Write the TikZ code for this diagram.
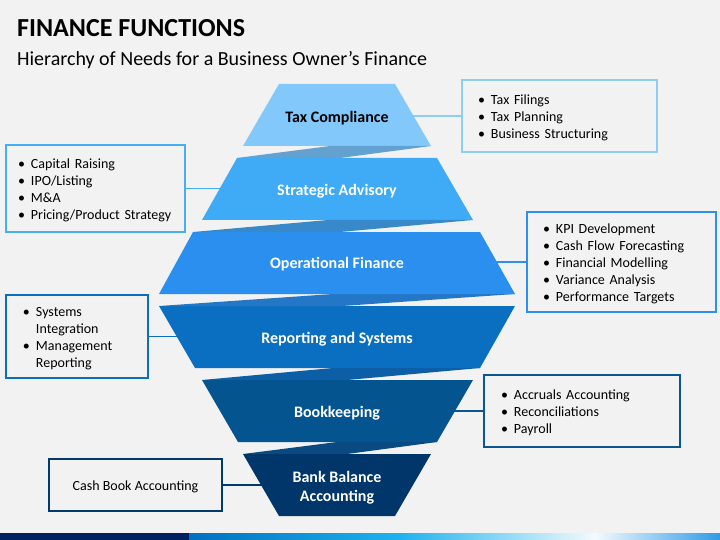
\documentclass[tikz,border=0pt]{standalone}
\usepackage{fontspec}
\setmainfont{Carlito}
\definecolor{bgc}{HTML}{F2F2F2}
\definecolor{tierA}{HTML}{82C8FA}
\definecolor{tierB}{HTML}{3FAAF5}
\definecolor{tierC}{HTML}{2A8FEE}
\definecolor{tierD}{HTML}{0A6FC1}
\definecolor{tierE}{HTML}{045490}
\definecolor{tierF}{HTML}{01366A}
\definecolor{bandA}{HTML}{63A1D1}
\definecolor{bandB}{HTML}{3889C9}
\definecolor{bandC}{HTML}{2377C6}
\definecolor{bandD}{HTML}{0C5EA6}
\definecolor{bandE}{HTML}{0A4A82}
\definecolor{boxA}{HTML}{8DCDF8}
\definecolor{boxB}{HTML}{45AEF5}
\definecolor{boxC}{HTML}{2F8FEE}
\definecolor{boxD}{HTML}{0B6FBF}
\definecolor{boxE}{HTML}{0A5592}
\definecolor{boxF}{HTML}{013A6C}
\definecolor{barnavy}{HTML}{002060}
\definecolor{barblue}{HTML}{0070C0}
\definecolor{barsky}{HTML}{1DB3EE}
\definecolor{barwhite}{HTML}{F4FAFD}
\definecolor{barend}{HTML}{2E9BE6}
\newcommand\itm{\makebox[13pt][l]{\textbullet}}
\newcommand\hangpad{\hspace*{13pt}}
\begin{document}
\begin{tikzpicture}[x=1pt,y=-1pt]
    \tikzset{
      tiertext/.style={font=\bfseries\fontsize{16}{19}\selectfont, text=white, align=center, yshift=-2.5pt},
      infobox/.style={draw, line width=1.5pt, fill=bgc, anchor=north west, outer sep=0pt,
        inner ysep=0pt, align=left, font=\fontsize{14}{16.8}\selectfont,
        execute at begin node={\rule{0pt}{13.5pt}}},
      link/.style={line width=1.5pt}
    }
    % background and bottom bar
    \fill[bgc] (0,0) rectangle (720,540);
    \fill[barnavy] (0,533) rectangle (189,540);
    \shade[left color=barblue, right color=barsky] (189,533) rectangle (400,540);
    \shade[left color=barsky, right color=barwhite] (400,533) rectangle (595,540);
    \shade[left color=barwhite, right color=barend] (595,533) rectangle (720,540);
    % titles
    \node[anchor=base west, inner sep=0pt, font=\bfseries\fontsize{26}{30}\selectfont] (title) at (17,37) {FINANCE FUNCTIONS};
    \node[anchor=base west, inner sep=0pt, font=\fontsize{20}{24}\selectfont] (subtitle) at (17,66) {Hierarchy of Needs for a Business Owner’s Finance};
    % tier centres
    \coordinate (tax) at (337,116);
    \coordinate (strat) at (337,189);
    \coordinate (oper) at (337,262);
    \coordinate (rep) at (337,337);
    \coordinate (book) at (337,411);
    \coordinate (bank) at (337,485);
    % side boxes
    \node[infobox, draw=boxA, text width=163pt, inner xsep=16pt, minimum height=72pt] (taxbox) at (462,80)
      {\itm Tax Filings\\ \itm Tax Planning\\ \itm Business Structuring};
    \node[infobox, draw=boxB, text width=155pt, inner xsep=12pt, minimum height=87pt] (stratbox) at (6,145)
      {\itm Capital Raising\\ \itm IPO/Listing\\ \itm M\&A\\ \itm Pricing/Product Strategy};
    \node[infobox, draw=boxC, text width=157pt, inner xsep=16pt, minimum height=100pt] (operbox) at (527,212)
      {\itm KPI Development\\ \itm Cash Flow Forecasting\\ \itm Financial Modelling\\ \itm Variance Analysis\\ \itm Performance Targets};
    \node[infobox, draw=boxD, text width=108pt, inner xsep=17pt, minimum height=83pt] (repbox) at (6,295)
      {\itm Systems\\ \hangpad Integration\\ \itm Management\\ \hangpad Reporting};
    \node[infobox, draw=boxE, text width=162pt, inner xsep=17pt, minimum height=72pt] (bookbox) at (484,375)
      {\itm Accruals Accounting\\ \itm Reconciliations\\ \itm Payroll};
    \node[infobox, draw=boxF, align=center, inner xsep=0pt, minimum width=173pt, minimum height=52pt] (bankbox) at (49,459)
      {Cash Book Accounting};
    % links
    \draw[link, boxA] (taxbox.west) -- (taxbox.west -| tax);
    \draw[link, boxB] (stratbox.east) -- (stratbox.east -| strat);
    \draw[link, boxC] (operbox.west) -- (operbox.west -| oper);
    \draw[link, boxD] (repbox.east) -- (repbox.east -| rep);
    \draw[link, boxE] (bookbox.west) -- (bookbox.west -| book);
    \draw[link, boxF] (bankbox.east) -- (bankbox.east -| bank);
    % tiers
    \fill[tierA] (279,84) -- (395,84) -- (431,146) -- (243,146) -- cycle;
    \fill[tierB] (237,158) -- (437,158) -- (473,220) -- (202,220) -- cycle;
    \fill[tierC] (193,232) -- (480,232) -- (515,294) -- (159,294) -- cycle;
    \fill[tierD] (159,306) -- (515,306) -- (480,368) -- (195,368) -- cycle;
    \fill[tierE] (202,380) -- (473,380) -- (437,442) -- (238,442) -- cycle;
    \fill[tierF] (243,454) -- (431,454) -- (395,516) -- (279,516) -- cycle;
    % twisted bands
    \fill[bandA] (330,146) -- (431,146) -- (340,158) -- (237,158) -- cycle;
    \fill[bandB] (328,220) -- (473,220) -- (340,232) -- (193,232) -- cycle;
    \fill[bandC] (333,294) -- (515,294) -- (342,306) -- (159,306) -- cycle;
    \fill[bandD] (333,368) -- (480,368) -- (347,380) -- (202,380) -- cycle;
    \fill[bandE] (337,442) -- (437,442) -- (347,454) -- (243,454) -- cycle;
    % tier labels
    \node[tiertext, text=black] (taxlbl) at (tax) {Tax Compliance};
    \node[tiertext] (stratlbl) at (strat) {Strategic Advisory};
    \node[tiertext] (operlbl) at (oper) {Operational Finance};
    \node[tiertext] (replbl) at (rep) {Reporting and Systems};
    \node[tiertext] (booklbl) at (book) {Bookkeeping};
    \node[tiertext] (banklbl) at (bank) {Bank Balance\\Accounting};
\end{tikzpicture}
\end{document}
